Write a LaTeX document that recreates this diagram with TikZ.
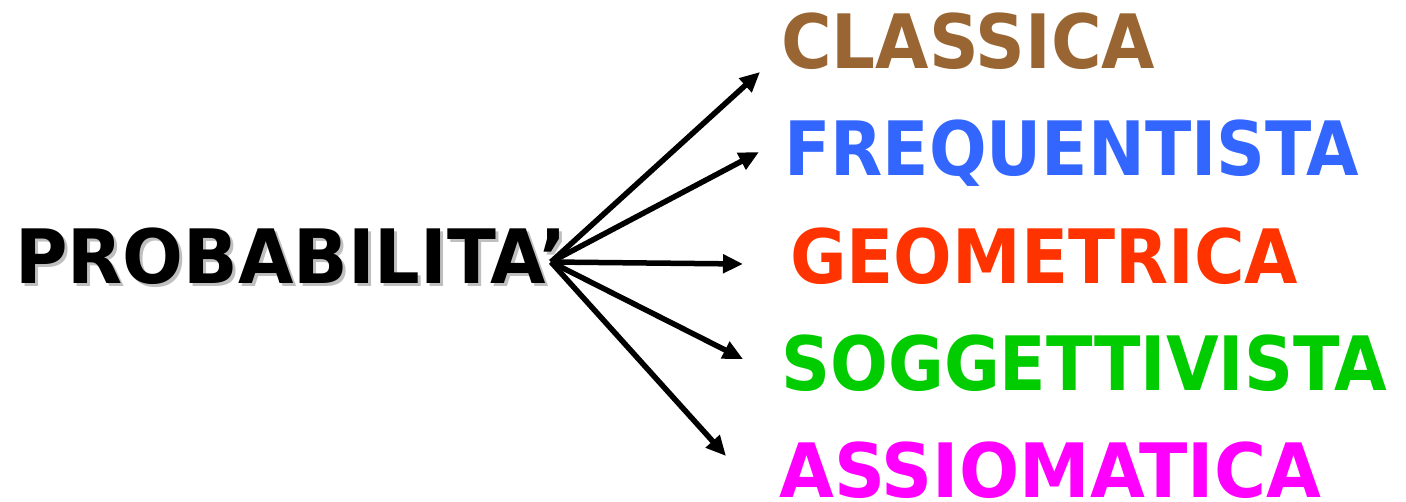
\documentclass[tikz,border=0pt]{standalone}
\usepackage{fontspec}
\setmainfont{DejaVu Sans}
\usepackage{xcolor}
\usetikzlibrary{arrows.meta}

\definecolor{classica}{RGB}{153,102,51}
\definecolor{frequent}{RGB}{51,102,255}
\definecolor{geometr}{RGB}{255,51,0}
\definecolor{sogget}{RGB}{0,204,0}
\definecolor{assiom}{RGB}{255,0,255}

\tikzset{
    lbl/.style={anchor=base west, inner sep=0pt, transform shape,
        font=\bfseries\fontsize{75}{80}\selectfont},
    arr/.style={line width=5.5pt, -{Triangle[length=20pt,width=18pt]}}
}

\begin{document}
\begin{tikzpicture}[x=1pt, y=-1pt]
        \useasboundingbox (0,0) rectangle (1406,501);

        % Root word with soft shadow
        \node[lbl, xscale=0.955, text=black!25] (shadow) at (18,286) {PROBABILITA’};
        \node[lbl, xscale=0.955] (prob) at (15,283) {PROBABILITA’};
        \coordinate (hub) at (551,262);

        % Kinds of probability
        \foreach \nm/\col/\txt/\xx/\yy/\sx in {cla/classica/CLASSICA/781/68/0.92,
                fre/frequent/FREQUENTISTA/784/175/0.905,
                geo/geometr/GEOMETRICA/790/283/0.92,
                sog/sogget/SOGGETTIVISTA/781/390/0.908,
                ass/assiom/ASSIOMATICA/779/497/0.945} {
            \node[lbl, xscale=\sx, text=\col] (\nm) at (\xx,\yy) {\txt};
        }

        % Arrow ends
        \coordinate (tcla) at (760,72);
        \coordinate (tfre) at (759,152);
        \coordinate (tgeo) at (743,264);
        \coordinate (tsog) at (743,359);
        \coordinate (tass) at (726,456);

        % Arrows
        \foreach \nm in {cla, fre, geo, sog, ass} {
            \draw[arr] (hub) -- (t\nm);
        }
    \end{tikzpicture}
\end{document}
